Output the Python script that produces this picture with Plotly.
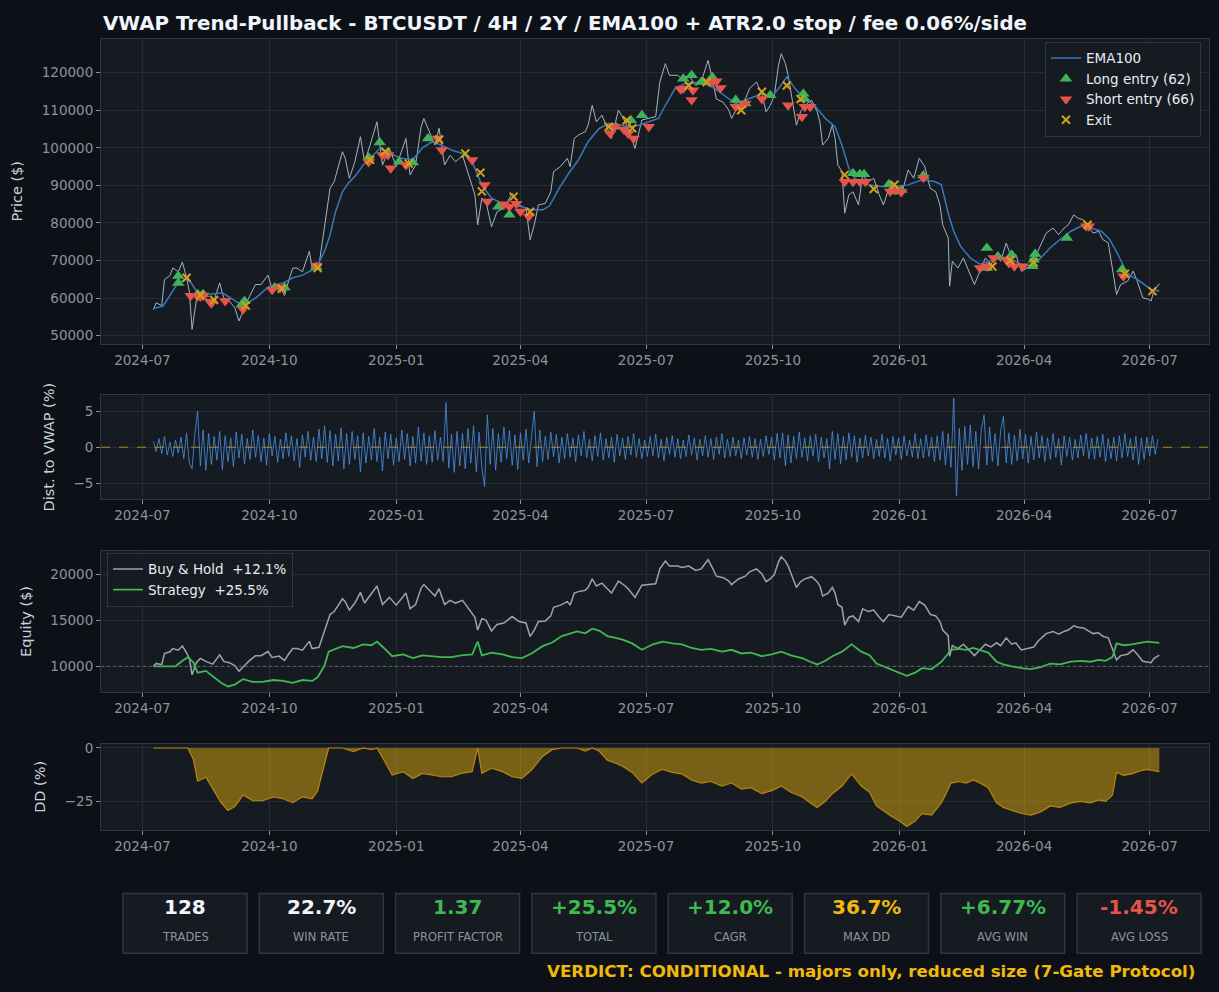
import pandas as pd
import numpy as np
import plotly.graph_objects as go

# ---------------- DATA ----------------
price_dates = ["2024-07-09","2024-07-11","2024-07-15","2024-07-17","2024-07-21","2024-07-23","2024-07-27","2024-07-30",
 "2024-08-02","2024-08-04","2024-08-06","2024-08-09","2024-08-12","2024-08-16","2024-08-21","2024-08-26","2024-08-29",
 "2024-09-02","2024-09-06","2024-09-09","2024-09-13","2024-09-16","2024-09-21","2024-09-25","2024-09-30","2024-10-03",
 "2024-10-08","2024-10-12","2024-10-15","2024-10-18","2024-10-21","2024-10-25","2024-10-30","2024-11-01","2024-11-06",
 "2024-11-09","2024-11-11","2024-11-14","2024-11-17","2024-11-21","2024-11-23","2024-11-25","2024-11-28","2024-12-02",
 "2024-12-06","2024-12-09","2024-12-13","2024-12-18","2024-12-22","2024-12-27","2025-01-01","2025-01-08","2025-01-11",
 "2025-01-15","2025-01-19","2025-01-21","2025-01-25","2025-01-29","2025-02-01","2025-02-05","2025-02-09","2025-02-13",
 "2025-02-18","2025-02-21","2025-02-27","2025-03-01","2025-03-04","2025-03-07","2025-03-11","2025-03-15","2025-03-20",
 "2025-03-26","2025-03-31","2025-04-05","2025-04-08","2025-04-11","2025-04-14","2025-04-19","2025-04-23","2025-04-25",
 "2025-04-30","2025-05-05","2025-05-07","2025-05-10","2025-05-13","2025-05-18","2025-05-20","2025-05-23","2025-05-26",
 "2025-05-30","2025-06-03","2025-06-06","2025-06-11","2025-06-16","2025-06-19","2025-06-23","2025-06-28","2025-07-03",
 "2025-07-08","2025-07-11","2025-07-15","2025-07-18","2025-07-24","2025-07-27","2025-08-01","2025-08-06","2025-08-10",
 "2025-08-13","2025-08-15","2025-08-18","2025-08-21","2025-08-26","2025-08-30","2025-09-01","2025-09-06","2025-09-11",
 "2025-09-14","2025-09-19","2025-09-23","2025-09-26","2025-09-29","2025-10-02","2025-10-05","2025-10-07","2025-10-10",
 "2025-10-12","2025-10-15","2025-10-18","2025-10-21","2025-10-24","2025-10-29","2025-11-02","2025-11-04","2025-11-06",
 "2025-11-10","2025-11-13","2025-11-15","2025-11-17","2025-11-20","2025-11-22","2025-11-25","2025-11-28","2025-12-02",
 "2025-12-05","2025-12-09","2025-12-13","2025-12-17","2025-12-20","2025-12-24","2025-12-28","2026-01-02","2026-01-07",
 "2026-01-11","2026-01-15","2026-01-19","2026-01-23","2026-01-27","2026-01-30","2026-02-01","2026-02-05","2026-02-06",
 "2026-02-08","2026-02-12","2026-02-16","2026-02-19","2026-02-24","2026-02-28","2026-03-04","2026-03-08","2026-03-12",
 "2026-03-15","2026-03-19","2026-03-23","2026-03-26","2026-03-30","2026-04-03","2026-04-08","2026-04-11","2026-04-17",
 "2026-04-22","2026-04-26","2026-04-30","2026-05-03","2026-05-07","2026-05-10","2026-05-14","2026-05-18","2026-05-21",
 "2026-05-25","2026-05-28","2026-06-01","2026-06-04","2026-06-07","2026-06-10","2026-06-15","2026-06-19","2026-06-22",
 "2026-06-26","2026-06-30","2026-07-02","2026-07-04","2026-07-08"]
price_vals = [56970,58750,58000,64930,66000,68030,67000,69600,
 65380,61850,51670,59200,61850,60000,58300,64050,60000,
 59200,57400,53900,57400,60000,63600,63600,66100,62500,
 63300,60700,64600,68000,68000,67000,72460,68000,68800,
 76000,81300,89240,91000,96300,98970,97200,91900,96300,
 102950,96300,100700,106930,95400,99840,95000,102500,92800,
 95400,105600,107800,104300,100700,105200,95420,98000,96300,
 98000,94550,87470,79500,86600,85700,79000,83000,83900,
 87900,84800,83900,75530,79500,84800,85200,88300,93670,
 95000,97200,95000,102500,103400,104300,106000,111330,106900,
 108700,105200,102500,110000,106900,104300,99840,107400,107800,
 108300,117530,122400,119300,119300,118400,119300,116600,117500,
 121060,123270,118400,113000,112100,110000,107800,111300,113000,
 115760,117500,114400,109580,111300,114000,121950,125040,122400,
 119300,113000,106000,109600,111300,112700,109600,106930,100730,
 102500,106000,102500,95430,93670,82600,87500,88300,84800,
 92770,91000,91900,87500,84800,89200,88300,87500,94100,
 91900,97200,95000,89200,88300,84800,79500,76000,63170,
 69800,68000,70700,68000,63600,67200,70700,69000,71600,
 69800,74660,70700,71600,67150,68000,68900,72500,77300,
 78650,76900,78650,79500,82160,81300,80800,78650,77300,
 77800,75600,74700,67150,60950,63600,64500,67200,64500,
 60080,59700,59200,61800,63860]

ema_dates = ["2024-07-09","2024-07-16","2024-07-26","2024-08-03","2024-08-09","2024-08-19","2024-08-28","2024-09-07",
 "2024-09-12","2024-09-21","2024-10-01","2024-10-11","2024-10-18","2024-10-25","2024-11-04","2024-11-10","2024-11-14",
 "2024-11-18","2024-11-23","2024-11-27","2024-12-03","2024-12-08","2024-12-15","2024-12-20","2024-12-27","2025-01-05",
 "2025-01-13","2025-01-20","2025-01-27","2025-02-03","2025-02-10","2025-02-18","2025-02-25","2025-03-01","2025-03-04",
 "2025-03-11","2025-03-19","2025-03-26","2025-04-02","2025-04-09","2025-04-17","2025-04-22","2025-04-29","2025-05-06",
 "2025-05-13","2025-05-20","2025-05-28","2025-06-04","2025-06-11","2025-06-18","2025-06-26","2025-07-03","2025-07-10",
 "2025-07-15","2025-07-22","2025-07-29","2025-08-10","2025-08-20","2025-08-30","2025-09-04","2025-09-13","2025-09-23",
 "2025-09-30","2025-10-05","2025-10-11","2025-10-17","2025-10-24","2025-10-31","2025-11-08","2025-11-15","2025-11-20",
 "2025-11-25","2025-11-29","2025-12-09","2025-12-19","2025-12-28","2026-01-07","2026-01-17","2026-01-26","2026-01-31",
 "2026-02-05","2026-02-09","2026-02-14","2026-02-21","2026-02-28","2026-03-08","2026-03-15","2026-03-23","2026-03-30",
 "2026-04-06","2026-04-13","2026-04-20","2026-04-27","2026-05-05","2026-05-12","2026-05-19","2026-05-27","2026-06-02",
 "2026-06-08","2026-06-15","2026-06-22","2026-07-02","2026-07-08"]
ema_vals = [57200,57900,63600,65400,61900,61000,61400,59200,
 57900,60000,63200,64000,65400,66100,68000,72500,76800,
 83000,88300,90500,92800,95400,98000,99800,98500,97200,
 96800,100000,101600,100700,99400,98500,96300,93000,90100,
 86600,85200,84800,84300,83500,83500,84500,89200,93220,
 96750,101620,105150,106480,106210,105600,106030,106930,107800,
 111330,115760,117080,117500,115760,113000,111730,113000,114400,
 113500,115760,118830,115760,113000,111300,107800,105600,100700,
 94540,91900,90130,89690,89690,90130,91500,91020,90200,
 82600,77740,73760,70700,69000,69800,70700,70200,69000,
 68500,70700,73400,75600,77800,79100,78700,77800,75600,
 71600,66300,65000,62300,61900]

long_dates = ["2024-07-27","2024-07-27","2024-08-10","2024-08-14","2024-09-11","2024-09-13","2024-10-05","2024-10-12",
 "2024-11-04","2024-12-12","2024-12-20","2024-12-26","2025-01-03","2025-01-13","2025-01-24","2025-03-16","2025-03-24",
 "2025-06-09","2025-06-20","2025-06-28","2025-07-28","2025-08-03","2025-08-10","2025-08-18","2025-09-04","2025-09-11",
 "2025-09-29","2025-10-23","2025-10-24","2025-11-28","2025-12-03","2025-12-06","2025-12-24","2025-12-30","2026-01-02",
 "2026-01-18","2026-03-05","2026-03-05","2026-03-13","2026-03-23","2026-04-07","2026-04-08","2026-04-09","2026-05-02",
 "2026-06-11"]
long_px = [65900,64000,61000,61000,58300,59200,62800,62800,
 68300,97400,101400,98700,96300,96100,102500,84300,82200,
 105600,107350,108700,118400,119300,117500,118850,112700,111800,
 114000,114400,113000,93200,92950,92950,90300,88360,88800,
 92600,73300,68000,71100,71550,68500,70200,71750,76000,
 67600]

short_dates = ["2024-08-05","2024-08-10","2024-08-12","2024-08-14","2024-08-19","2024-08-20","2024-08-30","2024-09-12",
 "2024-10-03","2024-10-09","2024-11-04","2024-12-12","2024-12-22","2024-12-26","2024-12-28","2025-01-08","2025-01-31",
 "2025-02-03","2025-02-25","2025-03-06","2025-03-08","2025-03-20","2025-03-24","2025-03-29","2025-04-01","2025-04-07",
 "2025-06-05","2025-06-08","2025-06-15","2025-06-18","2025-06-22","2025-07-03","2025-07-26","2025-07-28","2025-08-03",
 "2025-08-04","2025-08-18","2025-08-21","2025-08-24","2025-09-04","2025-09-07","2025-09-11","2025-09-23","2025-10-12",
 "2025-10-22","2025-10-24","2025-10-28","2025-11-22","2025-11-28","2025-12-03","2025-12-07","2025-12-25","2025-12-29",
 "2026-01-02","2026-01-18","2026-02-28","2026-03-05","2026-03-10","2026-03-19","2026-03-21","2026-03-25","2026-03-31",
 "2026-05-16","2026-05-18","2026-06-12"]
short_px = [60600,60500,60400,60700,59000,58600,59200,57000,
 62200,62800,68700,96200,98100,98100,94550,95400,102500,
 99400,96750,90100,85700,85000,84300,85100,83050,81700,
 103800,105600,104900,103800,102500,105600,115600,115800,112700,
 115300,117700,117700,115950,110900,110900,111800,113000,111300,
 108260,110900,110900,91000,91000,91000,91000,88400,88800,
 88250,92000,68000,68400,70700,70300,69350,68500,68500,
 79100,79100,65800]

exit_dates = ["2024-08-02","2024-08-12","2024-08-22","2024-09-14","2024-10-10","2024-11-05","2024-12-13","2024-12-24",
 "2025-01-10","2025-02-01","2025-02-20","2025-03-03","2025-03-04","2025-03-27","2025-04-08","2025-06-04","2025-06-17",
 "2025-06-21","2025-08-01","2025-08-14","2025-09-08","2025-09-23","2025-10-11","2025-10-21","2025-11-22","2025-12-13",
 "2025-12-28","2026-03-09","2026-03-22","2026-04-08","2026-05-17","2026-06-13","2026-07-03"]
exit_px = [65400,60800,59500,58000,62500,68000,96800,99000,
 95800,102200,98500,93400,88400,87000,83000,105600,107350,
 105200,116600,117500,110000,114900,116600,113000,92800,89050,
 90150,68400,70000,69500,79500,66500,61850]

dist_start = "2024-07-09"
dist_vals = [0.8,-0.6,1.2,-0.9,1.5,-1.1,0.7,-1.3,1.0,-0.8,
 1.4,-1.6,2.0,-2.2,-3.0,1.8,5.0,-2.6,2.4,-3.2,
 1.9,-2.4,1.5,-1.8,2.2,-3.1,1.6,-2.0,1.3,-2.7,
 2.1,-1.5,1.8,-2.3,1.2,-1.7,2.4,-1.4,1.6,-2.0,
 1.3,-2.5,1.9,-1.2,1.5,-2.1,1.1,-1.6,2.0,-1.3,
 1.6,-1.9,1.2,-2.8,1.7,-1.4,2.2,-1.8,1.4,-2.0,
 2.5,-1.6,3.0,-2.1,2.3,-2.6,1.8,-1.9,2.7,-3.0,
 1.9,-2.4,2.2,-1.7,1.6,-3.4,2.0,-2.2,1.5,-1.8,
 2.6,-2.0,1.4,-3.3,2.1,-1.6,1.8,-2.5,1.3,-2.0,
 2.4,-1.7,1.9,-2.6,1.5,-2.2,2.8,-1.9,2.0,-2.4,
 1.6,-2.1,2.3,-1.8,1.4,-2.0,6.2,-2.9,1.8,-3.5,
 2.2,-2.6,1.9,-3.0,2.6,-2.2,3.0,-3.4,2.1,-2.8,
 -5.5,4.5,-2.4,2.6,-3.2,1.9,-2.1,2.8,-1.6,2.3,
 -2.5,1.7,-3.1,2.0,-1.8,2.5,-2.2,1.6,5.0,-2.7,
 2.4,-2.0,1.5,-1.7,2.1,-1.3,1.8,-2.2,1.4,-1.6,
 1.9,-1.4,1.3,-2.0,1.7,-1.2,2.2,-1.5,1.1,-1.9,
 1.6,-1.3,2.0,-1.8,1.2,-1.5,1.4,-2.1,1.8,-1.2,
 1.3,-1.7,1.5,-1.1,1.9,-1.4,1.2,-1.6,1.0,-1.3,
 1.5,-1.2,1.8,-1.5,1.1,-1.9,1.4,-1.0,1.6,-1.4,
 1.2,-1.6,1.0,-1.3,1.7,-1.1,1.3,-1.8,1.1,-1.2,
 1.6,-1.4,1.2,-1.7,1.4,-1.0,1.9,-1.5,1.1,-1.3,
 1.4,-1.2,1.0,-1.6,1.3,-1.1,1.5,-1.4,1.2,-1.7,
 1.1,-1.3,1.6,-1.0,1.4,-1.8,1.9,-1.5,2.0,-2.6,
 1.7,-2.2,1.5,-1.6,2.1,-1.4,1.3,-1.9,1.6,-1.2,
 1.8,-2.0,1.4,-1.5,1.2,-3.0,2.2,-1.7,1.9,-2.3,
 1.5,-1.8,2.0,-1.4,1.6,-2.1,1.3,-1.5,1.7,-1.2,
 1.4,-1.6,1.1,-1.3,1.8,-1.5,1.2,-1.9,1.5,-1.1,
 1.3,-1.7,1.6,-1.2,1.0,-1.4,1.9,-1.6,1.2,-1.5,
 1.7,-1.3,1.4,-2.0,1.6,-1.8,2.2,-2.5,1.9,-2.8,
 6.8,-6.8,2.6,-3.2,2.9,-2.4,3.1,-2.7,2.2,-3.0,
 2.4,4.5,-2.5,2.8,-2.0,1.9,-2.6,2.3,4.3,-2.2,
 2.0,-2.4,1.7,-1.9,2.5,-1.6,1.8,-2.2,1.5,-1.8,
 2.1,-1.5,1.6,-2.0,1.3,-1.7,1.9,-1.4,1.2,-2.5,
 1.6,-1.3,1.4,-1.8,1.1,-1.5,1.7,-1.2,1.9,-1.6,
 1.3,-1.7,1.5,-1.4,1.8,-2.0,1.2,-1.6,1.4,-1.9,
 1.6,-1.5,1.9,-1.3,1.2,-1.8,1.5,-2.4,1.3,-1.7,
 1.4,-1.2,1.6,-1.0,1.1]

eq_dates = ["2024-07-09","2024-07-25","2024-07-30","2024-08-03","2024-08-07","2024-08-10","2024-08-16","2024-08-21",
 "2024-08-27","2024-09-01","2024-09-06","2024-09-12","2024-09-19","2024-09-26","2024-10-04","2024-10-11","2024-10-18",
 "2024-10-25","2024-11-01","2024-11-05","2024-11-10","2024-11-13","2024-11-18","2024-11-23","2024-12-01","2024-12-08",
 "2024-12-14","2024-12-18","2024-12-23","2024-12-29","2025-01-06","2025-01-13","2025-01-20","2025-01-27","2025-02-03",
 "2025-02-10","2025-02-17","2025-02-25","2025-03-01","2025-03-04","2025-03-11","2025-03-19","2025-03-26","2025-04-02",
 "2025-04-09","2025-04-17","2025-04-24","2025-05-01","2025-05-06","2025-05-12","2025-05-18","2025-05-23","2025-05-28",
 "2025-06-03","2025-06-09","2025-06-14","2025-06-21","2025-06-28","2025-07-06","2025-07-13","2025-07-20","2025-07-27",
 "2025-08-03","2025-08-10","2025-08-17","2025-08-25","2025-09-01","2025-09-08","2025-09-15","2025-09-23","2025-09-30",
 "2025-10-07","2025-10-14","2025-10-22","2025-10-28","2025-11-02","2025-11-08","2025-11-13","2025-11-20","2025-11-27",
 "2025-12-04","2025-12-10","2025-12-15","2025-12-20","2025-12-26","2026-01-01","2026-01-06","2026-01-12","2026-01-17",
 "2026-01-24","2026-01-31","2026-02-04","2026-02-07","2026-02-13","2026-02-18","2026-02-23","2026-02-28","2026-03-06",
 "2026-03-12","2026-03-17","2026-03-23","2026-03-30","2026-04-06","2026-04-13","2026-04-20","2026-04-27","2026-05-05",
 "2026-05-12","2026-05-19","2026-05-25","2026-05-30","2026-06-04","2026-06-07","2026-06-12","2026-06-18","2026-06-24",
 "2026-06-29","2026-07-08"]
eq_vals = [10000,10000,10600,11000,10400,9300,9500,8900,
 8200,7800,8000,8600,8300,8300,8500,8400,8200,
 8500,8400,8800,10100,11600,11900,12200,12000,12400,
 12300,12700,12000,11100,11300,10900,11200,11100,11000,
 11000,11200,11300,12700,11200,11500,11300,11000,10900,
 11400,12200,12600,13300,13500,13800,13600,14100,13900,
 13300,13100,12900,12500,11800,12400,12700,12500,12400,
 12000,11800,11900,11600,11800,11400,11500,11100,11300,
 11600,11200,10900,10500,10200,10600,11100,11600,12400,
 11600,11200,10300,10000,9600,9300,8950,9300,9800,
 9700,10500,11200,11800,11900,11800,12000,11800,11500,
 10500,10200,10000,9800,9700,9900,10300,10200,10500,
 10600,10500,10700,10600,11000,12500,12300,12400,12600,
 12700,12550]

stat_values = ["128","22.7%","1.37","+25.5%","+12.0%","36.7%","+6.77%","-1.45%"]
stat_labels = ["TRADES","WIN RATE","PROFIT FACTOR","TOTAL","CAGR","MAX DD","AVG WIN","AVG LOSS"]
stat_colors = ["#f0f6fc","#f0f6fc","#3fb950","#3fb950","#3fb950","#f0b90b","#3fb950","#e5534b"]

title_text = "VWAP Trend-Pullback - BTCUSDT / 4H / 2Y / EMA100 + ATR2.0 stop / fee 0.06%/side"
verdict_text = "VERDICT: CONDITIONAL - majors only, reduced size (7-Gate Protocol)"
tick_months = ["2024-07-01","2024-10-01","2025-01-01","2025-04-01","2025-07-01","2025-10-01","2026-01-01","2026-04-01","2026-07-01"]

# ---------------- DERIVED ----------------
price = pd.Series(price_vals, index=pd.to_datetime(price_dates))
bh = 10000 * price / price.iloc[0]
eq = pd.Series(eq_vals, index=pd.to_datetime(eq_dates), dtype=float)
dd = (eq / eq.cummax() - 1) * 100
dist_dates = pd.date_range(dist_start, periods=len(dist_vals), freq="2D")

# ---------------- STYLE ----------------
W, H = 1219, 992
BG = "#0d1117"; PANEL = "#161b22"; GRID = "#262c35"; SPINE = "#30363d"
TICK = "#8b949e"; LABEL = "#c9d1d9"; FONT = "DejaVu Sans"
X0, X1 = 101 / W, 1209 / W
def ydom(top, bot):
    return [1 - bot / H, 1 - top / H]

fig = go.Figure()

fig.add_trace(go.Scatter(x=price.index, y=price.values, mode="lines", line=dict(color="#a3b3c7", width=1),
                         showlegend=False, xaxis="x", yaxis="y", hoverinfo="skip"))
fig.add_trace(go.Scatter(x=pd.to_datetime(ema_dates), y=ema_vals, mode="lines", name="EMA100",
                         line=dict(color="#3a78b8", width=1.5), xaxis="x", yaxis="y", legend="legend"))
fig.add_trace(go.Scatter(x=pd.to_datetime(long_dates), y=long_px, mode="markers", name="Long entry (62)",
                         marker=dict(symbol="triangle-up", size=11, color="#3cb55a"), xaxis="x", yaxis="y", legend="legend"))
fig.add_trace(go.Scatter(x=pd.to_datetime(short_dates), y=short_px, mode="markers", name="Short entry (66)",
                         marker=dict(symbol="triangle-down", size=11, color="#e5534b"), xaxis="x", yaxis="y", legend="legend"))
fig.add_trace(go.Scatter(x=pd.to_datetime(exit_dates), y=exit_px, mode="markers", name="Exit",
                         marker=dict(symbol="x-thin", size=8, color="#d4a017", line=dict(width=2, color="#d4a017")),
                         xaxis="x", yaxis="y", legend="legend"))

fig.add_trace(go.Scatter(x=dist_dates, y=dist_vals, mode="lines", line=dict(color="#4a90e2", width=0.8),
                         showlegend=False, xaxis="x2", yaxis="y2"))

fig.add_trace(go.Scatter(x=bh.index, y=bh.values, mode="lines", name="Buy & Hold  +12.1%",
                         line=dict(color="#9ba3ad", width=1.5), xaxis="x3", yaxis="y3", legend="legend2"))
fig.add_trace(go.Scatter(x=eq.index, y=eq.values, mode="lines", name="Strategy  +25.5%",
                         line=dict(color="#3fb950", width=1.8), xaxis="x3", yaxis="y3", legend="legend2"))

fig.add_trace(go.Scatter(x=dd.index, y=[0] * len(dd), mode="lines", line=dict(color="rgba(0,0,0,0)", width=0),
                         showlegend=False, xaxis="x4", yaxis="y4", hoverinfo="skip"))
fig.add_trace(go.Scatter(x=dd.index, y=dd.values, mode="lines", fill="tonexty", fillcolor="rgba(240,185,11,0.45)",
                         line=dict(color="#b8860b", width=1.2), showlegend=False, xaxis="x4", yaxis="y4"))

xr = ["2024-06-01", "2026-08-13"]
tick_text = [t[:7] for t in tick_months]
common_x = dict(range=xr, tickvals=tick_months, ticktext=tick_text, showgrid=True, gridcolor=GRID,
                showline=True, linecolor=SPINE, mirror=True, ticks="outside", ticklen=4, tickcolor=TICK,
                tickfont=dict(color=TICK, size=13.5, family=FONT), zeroline=False, domain=[X0, X1])
common_y = dict(showgrid=True, gridcolor=GRID, showline=True, linecolor=SPINE, mirror=True, ticks="outside",
                ticklen=4, tickcolor=TICK, tickfont=dict(color=TICK, size=13.5, family=FONT), zeroline=False)

fig.update_layout(
    width=W, height=H, margin=dict(l=0, r=0, t=0, b=0), paper_bgcolor=BG, plot_bgcolor=PANEL,
    font=dict(family=FONT, color=LABEL),
    xaxis=dict(common_x, anchor="y"),
    xaxis2=dict(common_x, anchor="y2"),
    xaxis3=dict(common_x, anchor="y3"),
    xaxis4=dict(common_x, anchor="y4"),
    yaxis=dict(common_y, domain=ydom(35, 341), range=[47880, 129000], tickvals=list(range(50000, 120001, 10000)),
               tickformat="d", title=dict(text="Price ($)", font=dict(size=14.5, color=LABEL)), anchor="x"),
    yaxis2=dict(common_y, domain=ydom(393, 497), range=[-7.2, 7.2], tickvals=[-5, 0, 5],
                title=dict(text="Dist. to VWAP (%)", font=dict(size=14.5, color=LABEL)), anchor="x2"),
    yaxis3=dict(common_y, domain=ydom(549, 691), range=[7170, 22610], tickvals=[10000, 15000, 20000],
                tickformat="d", title=dict(text="Equity ($)", font=dict(size=14.5, color=LABEL)), anchor="x3"),
    yaxis4=dict(common_y, domain=ydom(743, 829), range=[-38, 1.85], tickvals=[-25, 0],
                title=dict(text="DD (%)", font=dict(size=14.5, color=LABEL)), anchor="x4"),
    legend=dict(x=1201 / W, y=1 - 38 / H, xanchor="right", yanchor="top", bgcolor=PANEL, bordercolor=SPINE,
                borderwidth=1, traceorder="normal", font=dict(size=13.5, color="#e6edf3", family=FONT)),
    legend2=dict(x=107 / W, y=1 - 551 / H, xanchor="left", yanchor="top", bgcolor=PANEL, bordercolor=SPINE,
                 borderwidth=1, traceorder="normal", font=dict(size=13.5, color="#e6edf3", family=FONT)),
    showlegend=True,
)

# reference lines
fig.add_shape(type="line", xref="x2 domain", yref="y2", x0=0, x1=1, y0=0, y1=0,
              line=dict(color="#d4a017", width=1, dash="dash"), opacity=0.8)
fig.add_shape(type="line", xref="x3 domain", yref="y3", x0=0, x1=1, y0=10000, y1=10000,
              line=dict(color="#6e7681", width=1, dash="dot"), opacity=0.8)

# title
fig.add_annotation(text="<b>" + title_text + "</b>", xref="paper", yref="paper", x=101 / W, y=1 - 20 / H,
                   xanchor="left", yanchor="middle", showarrow=False, font=dict(size=19.8, color="#f0f6fc", family=FONT))

# stat boxes
bx0, bstep, bw, by0, by1 = 123, 136.3, 124, 893, 953
for i, (v, lab, c) in enumerate(zip(stat_values, stat_labels, stat_colors)):
    left = bx0 + i * bstep
    fig.add_shape(type="rect", xref="paper", yref="paper", x0=left / W, x1=(left + bw) / W,
                  y0=1 - by1 / H, y1=1 - by0 / H, fillcolor=PANEL, line=dict(color=SPINE, width=1.5))
    cx = (left + bw / 2) / W
    fig.add_annotation(text="<b>" + v + "</b>", xref="paper", yref="paper", x=cx, y=1 - 907 / H,
                       xanchor="center", yanchor="middle", showarrow=False, font=dict(size=20, color=c, family=FONT))
    fig.add_annotation(text=lab, xref="paper", yref="paper", x=cx, y=1 - 937 / H, xanchor="center",
                       yanchor="middle", showarrow=False, font=dict(size=11.5, color=TICK, family=FONT))

fig.add_annotation(text="<b>" + verdict_text + "</b>", xref="paper", yref="paper", x=1197 / W, y=1 - 971 / H,
                   xanchor="right", yanchor="middle", showarrow=False, font=dict(size=16.7, color="#f0b90b", family=FONT))

fig.write_html("out.html")
